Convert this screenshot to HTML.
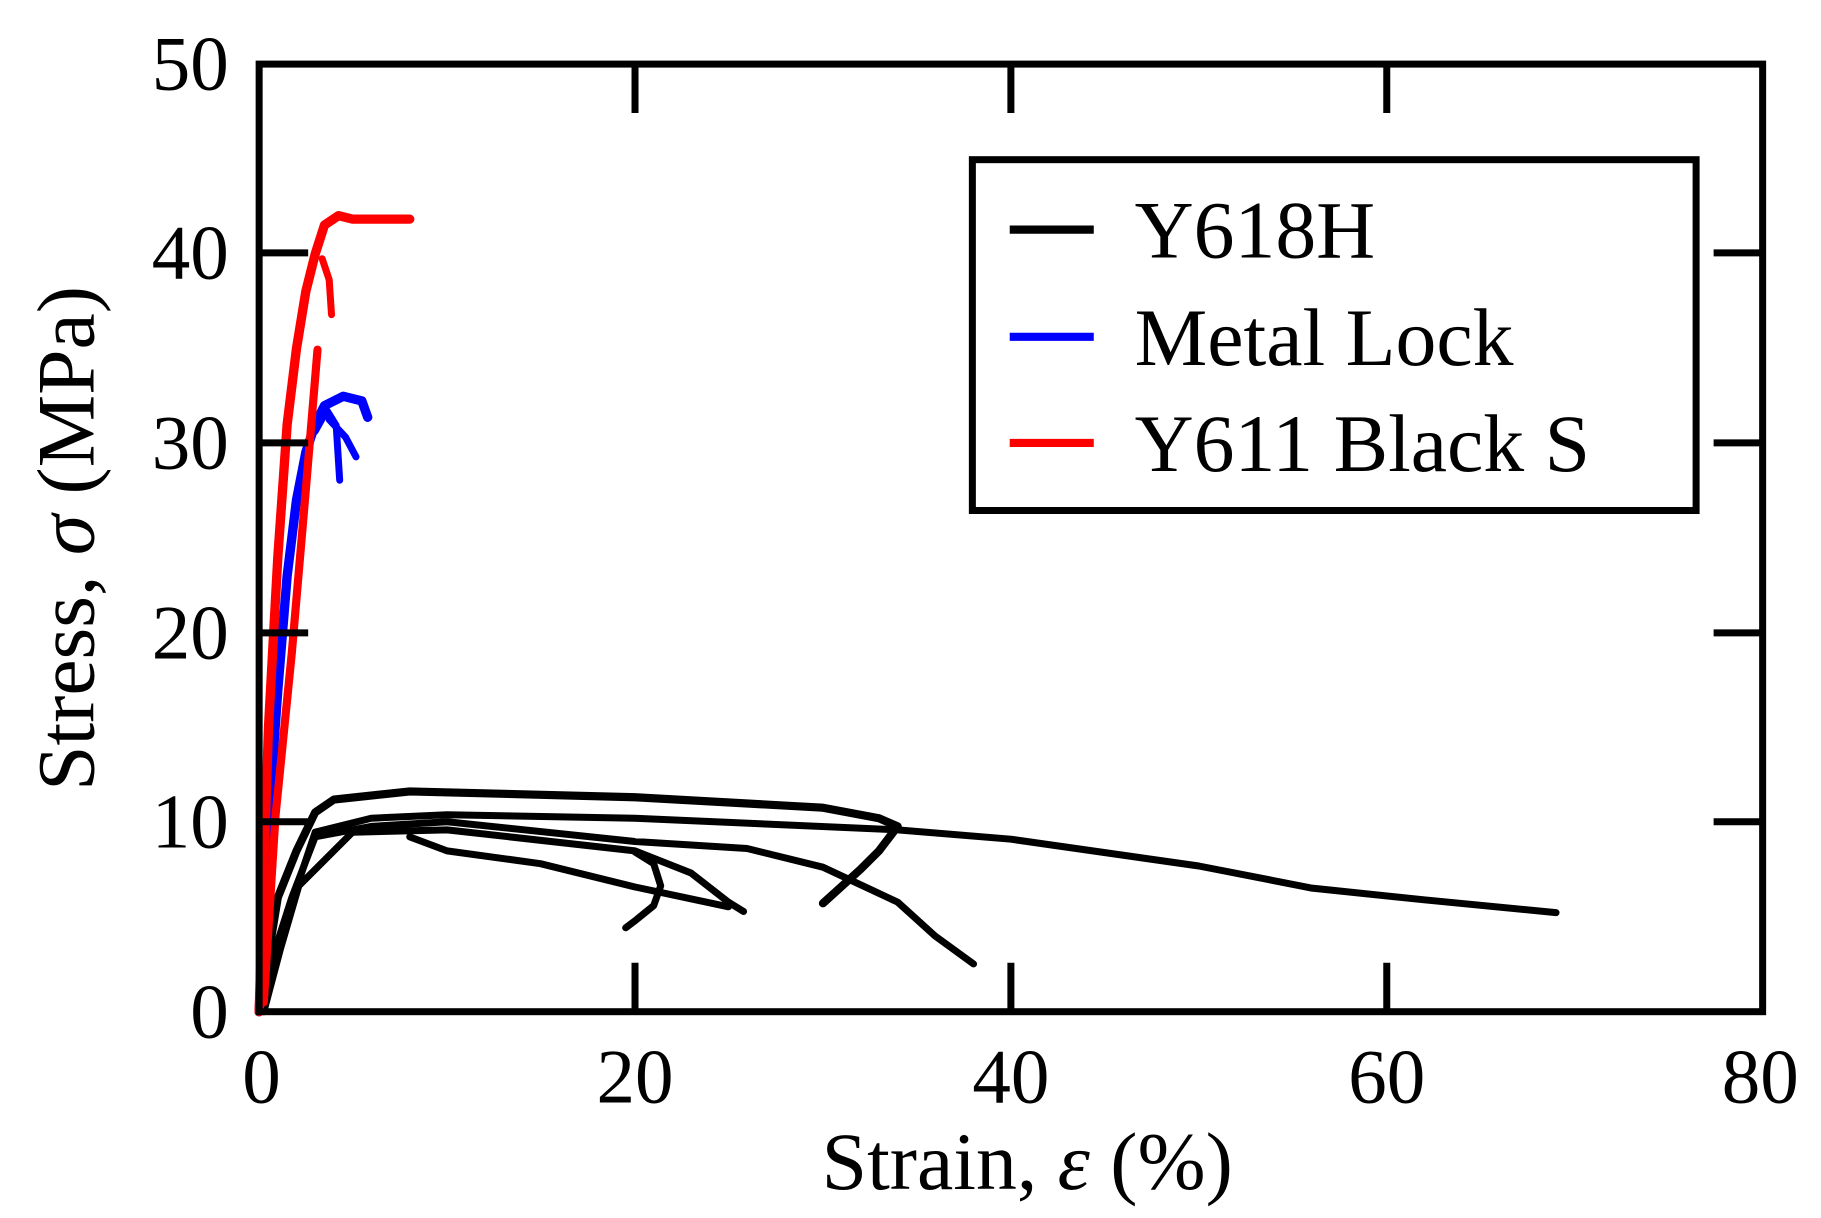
<!DOCTYPE html>
<html><head><meta charset="utf-8"><style>
html,body{margin:0;padding:0;background:#fff;}
svg{display:block;}
text{font-family:"Liberation Serif",serif;fill:#000;}
</style></head><body>
<svg width="1821" height="1218" viewBox="0 0 1560 1045" preserveAspectRatio="none" xmlns="http://www.w3.org/2000/svg">
<g fill="none" stroke-linecap="round" stroke-linejoin="round">
<polyline stroke="#000" stroke-width="7" points="222,868 230,819 238,770 254,730 270,697 286,686 351,679 544,684 705,693 753,702 769,709 753,730 737,746 705,775"/>
<polyline stroke="#000" stroke-width="6" points="222,868 232,830 244,790 258,750 270,714 318,702 383,699 544,702 769,712 866,720 1027,743 1124,762 1220,772 1333,783"/>
<polyline stroke="#000" stroke-width="6" points="222,868 234,820 250,770 270,718 318,709 383,705 544,722 640,728 705,744 769,774 801,803 834,827"/>
<polyline stroke="#000" stroke-width="6" points="226,868 240,815 256,760 302,714 383,712 544,730 592,749 624,774 637,782"/>
<polyline stroke="#000" stroke-width="6" points="351,718 383,730 463,741 544,761 624,778"/>
<polyline stroke="#000" stroke-width="6" points="544,731 560,741 566,760 560,777 544,790 536,796"/>
<polyline stroke="#0000ff" stroke-width="8" points="222,868 230,705 238,592 246,494 254,429 262,388 270,364 278,348 294,340 310,344 315,358"/>
<polyline stroke="#0000ff" stroke-width="6" points="270,370 280,352 288,365 291,412"/>
<polyline stroke="#0000ff" stroke-width="6" points="282,360 296,375 305,392"/>
<polyline stroke="#ff0000" stroke-width="8" points="222,868 230,624 238,478 246,364 254,299 262,250 270,218 278,193 290,185 302,188 351,188"/>
<polyline stroke="#ff0000" stroke-width="6" points="276,222 282,240 284,270"/>
<polyline stroke="#ff0000" stroke-width="7" points="226,860 236,700 250,560 262,420 272,300"/>
</g>
<rect x="222" y="55" width="1288" height="813" fill="none" stroke="#000" stroke-width="6"/>
<g stroke="#000" stroke-width="6">
<line x1="544" y1="868" x2="544" y2="826"/><line x1="866" y1="868" x2="866" y2="826"/><line x1="1188" y1="868" x2="1188" y2="826"/>
<line x1="544" y1="55" x2="544" y2="97"/><line x1="866" y1="55" x2="866" y2="97"/><line x1="1188" y1="55" x2="1188" y2="97"/>
<line x1="222" y1="705" x2="264" y2="705"/><line x1="222" y1="543" x2="264" y2="543"/><line x1="222" y1="380" x2="264" y2="380"/><line x1="222" y1="217" x2="264" y2="217"/>
<line x1="1510" y1="705" x2="1468" y2="705"/><line x1="1510" y1="543" x2="1468" y2="543"/><line x1="1510" y1="380" x2="1468" y2="380"/><line x1="1510" y1="217" x2="1468" y2="217"/>
</g>
<g font-size="66" text-anchor="end">
<text x="196" y="890">0</text><text x="196" y="727">10</text><text x="196" y="565">20</text>
<text x="196" y="402">30</text><text x="196" y="239">40</text><text x="196" y="77">50</text>
</g>
<g font-size="66" text-anchor="middle">
<text x="224" y="946">0</text><text x="544" y="946">20</text><text x="866" y="946">40</text>
<text x="1188" y="946">60</text><text x="1508" y="946">80</text>
<text x="880" y="1020" font-size="70">Strain, <tspan font-style="italic">ε</tspan> (%)</text>
<text transform="translate(80,462) rotate(-90)" font-size="70">Stress, <tspan font-style="italic">σ</tspan> (MPa)</text>
</g>
<rect x="833" y="137" width="620" height="301" fill="#fff" stroke="#000" stroke-width="6"/>
<line x1="865" y1="197" x2="937" y2="197" stroke="#000" stroke-width="7"/>
<line x1="865" y1="289" x2="937" y2="289" stroke="#0000ff" stroke-width="7"/>
<line x1="865" y1="380" x2="937" y2="380" stroke="#ff0000" stroke-width="7"/>
<g font-size="70">
<text x="972" y="221">Y618H</text>
<text x="972" y="313">Metal Lock</text>
<text x="972" y="404">Y611 Black S</text>
</g>
</svg>
</body></html>
